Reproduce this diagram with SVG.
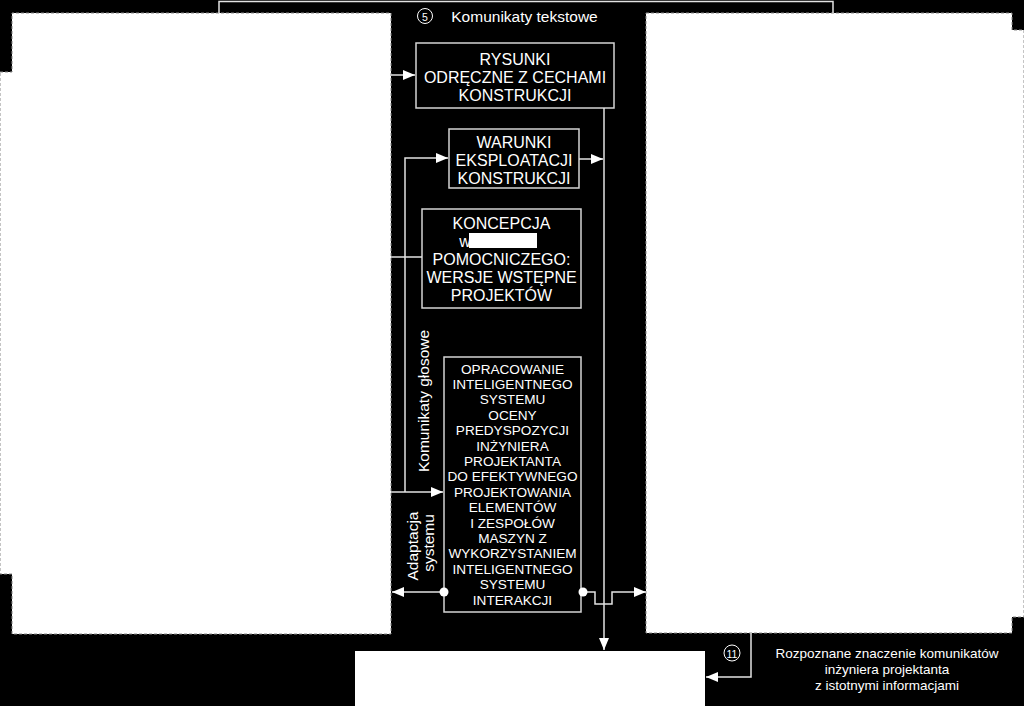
<svg xmlns="http://www.w3.org/2000/svg" width="1024" height="706" viewBox="0 0 1024 706">
<defs>
<style>
.bg{fill:#000}
.region{fill:#fff;stroke:#8a8a8a;stroke-width:1;stroke-dasharray:3 2}
.box{fill:#000;stroke:#d4d4d4;stroke-width:1.5}
.line{fill:none;stroke:#e2e2e2;stroke-width:1.5}
.t{fill:#fff;font-family:"Liberation Sans",Arial,sans-serif;text-anchor:middle;dominant-baseline:central}
.b16{font-size:16px}
.b14{font-size:13.6px}
.lab{font-size:15.5px}
.small{font-size:13.5px}
.dot{fill:#fff}
.num{fill:none;stroke:#fff;stroke-width:1}
</style>
<marker id="arr" markerUnits="userSpaceOnUse" markerWidth="12" markerHeight="10" viewBox="0 0 12 10" refX="12" refY="5" orient="auto">
<path d="M0,0 L12,5 L0,10 Z" fill="#fff"/>
</marker>
</defs>
<rect class="bg" x="0" y="0" width="1024" height="706"/>
<g id="left-region">
<path class="region" d="M0,72 H12 V13 H391 V634 H12 V574 H0 Z"/>
</g>
<g id="right-region">
<path class="region" d="M646,13 H1012 V30 H1024 V617 H1012 V633 H646 Z"/>
</g>
<g id="bottom-region">
<rect x="355" y="651" width="350" height="60" fill="#fff"/>
</g>
<g id="label-5">
<circle class="num" cx="425" cy="16" r="7.5"/>
<text class="t" x="425" y="16.5" style="font-size:10.5px">5</text>
<text class="t lab" x="524.5" y="16">Komunikaty tekstowe</text>
</g>
<g id="node-rysunki">
<rect class="box" x="416" y="43" width="198" height="65"/>
<text class="t b16" x="515" y="59">RYSUNKI</text>
<text class="t b16" x="515" y="77">ODRĘCZNE Z CECHAMI</text>
<text class="t b16" x="515" y="95">KONSTRUKCJI</text>
</g>
<g id="node-warunki">
<rect class="box" x="449" y="129" width="130" height="59"/>
<text class="t b16" x="514" y="142">WARUNKI</text>
<text class="t b16" x="514" y="160">EKSPLOATACJI</text>
<text class="t b16" x="514" y="178">KONSTRUKCJI</text>
</g>
<g id="node-koncepcja">
<rect class="box" x="422" y="209" width="159" height="99"/>
<text class="t b16" x="501.5" y="223">KONCEPCJA</text>
<text class="t b16" x="465" y="241">w</text>
<rect x="469" y="233" width="68" height="15" fill="#fff"/>
<text class="t b16" x="501.5" y="259">POMOCNICZEGO:</text>
<text class="t b16" x="501.5" y="277">WERSJE WSTĘPNE</text>
<text class="t b16" x="501.5" y="295">PROJEKTÓW</text>
</g>
<g id="node-opracowanie">
<rect class="box" x="444" y="357" width="137" height="255"/>
<text class="t b14" x="512.5" y="369">OPRACOWANIE</text>
<text class="t b14" x="512.5" y="384.4">INTELIGENTNEGO</text>
<text class="t b14" x="512.5" y="399.8">SYSTEMU</text>
<text class="t b14" x="512.5" y="415.2">OCENY</text>
<text class="t b14" x="512.5" y="430.6">PREDYSPOZYCJI</text>
<text class="t b14" x="512.5" y="446">INŻYNIERA</text>
<text class="t b14" x="512.5" y="461.4">PROJEKTANTA</text>
<text class="t b14" x="512.5" y="476.8">DO EFEKTYWNEGO</text>
<text class="t b14" x="512.5" y="492.2">PROJEKTOWANIA</text>
<text class="t b14" x="512.5" y="507.6">ELEMENTÓW</text>
<text class="t b14" x="512.5" y="523">I ZESPOŁÓW</text>
<text class="t b14" x="512.5" y="538.4">MASZYN Z</text>
<text class="t b14" x="512.5" y="553.8">WYKORZYSTANIEM</text>
<text class="t b14" x="512.5" y="569.2">INTELIGENTNEGO</text>
<text class="t b14" x="512.5" y="584.6">SYSTEMU</text>
<text class="t b14" x="512.5" y="600">INTERAKCJI</text>
</g>
<g id="label-glosowe">
<text class="t lab" transform="translate(423,401) rotate(-90)" x="0" y="0">Komunikaty głosowe</text>
</g>
<g id="label-adaptacja">
<text class="t lab" transform="translate(412,546) rotate(-90)" x="0" y="0">Adaptacja</text>
<text class="t lab" transform="translate(428,543) rotate(-90)" x="0" y="0">systemu</text>
</g>
<g id="label-11">
<circle class="num" cx="732" cy="653" r="8"/>
<text class="t" x="732" y="653.5" style="font-size:10.5px">11</text>
<text class="t small" x="887" y="653">Rozpoznane znaczenie komunikatów</text>
<text class="t small" x="887" y="669">inżyniera projektanta</text>
<text class="t small" x="887" y="685">z istotnymi informacjami</text>
</g>
<g id="connectors">
<polyline class="line" points="219,13 219,1.5 833,1.5 833,13"/>
<line class="line" x1="391" y1="75" x2="415" y2="75" marker-end="url(#arr)"/>
<line class="line" x1="391" y1="492" x2="443" y2="492" marker-end="url(#arr)"/>
<path class="line" d="M405,492 V158 H448" marker-end="url(#arr)"/>
<line class="line" x1="391" y1="257" x2="422" y2="257"/>
<line class="line" x1="579" y1="159" x2="603" y2="159" marker-end="url(#arr)"/>
<line class="line" x1="604" y1="108" x2="604" y2="650" marker-end="url(#arr)"/>
<line class="line" x1="444" y1="592" x2="392" y2="592" marker-end="url(#arr)"/>
<circle class="dot" cx="444" cy="592" r="4.5"/>
<path class="line" d="M581,592 H595 V604 H612 V592 H646" marker-end="url(#arr)"/>
<circle class="dot" cx="583" cy="592" r="4.5"/>
<path class="line" d="M751,633 V677 H706" marker-end="url(#arr)"/>
</g>
</svg>
